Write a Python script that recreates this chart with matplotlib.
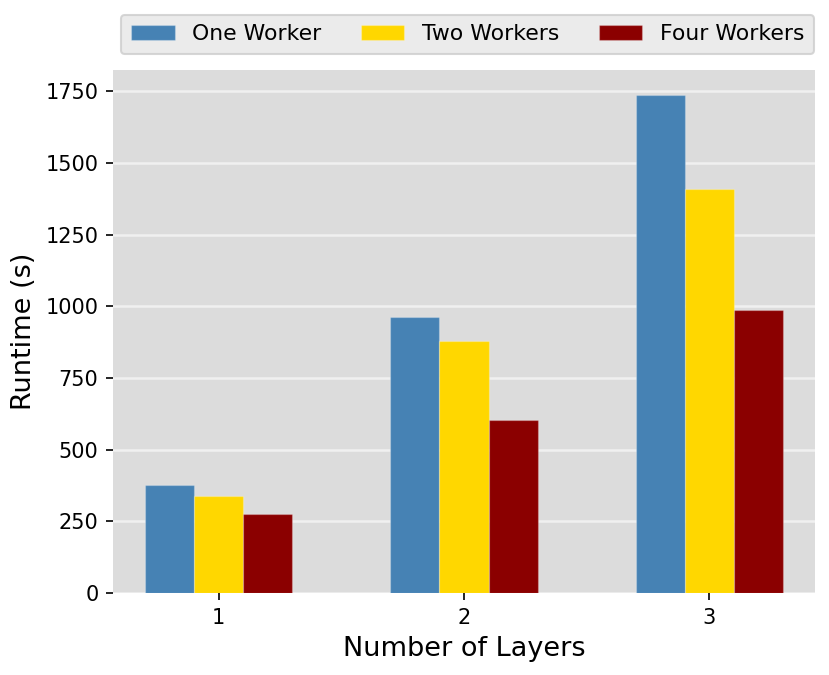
import matplotlib
matplotlib.use("Agg")
import matplotlib.pyplot as plt
import numpy as np

layers = [1, 2, 3]
series_names = ["One Worker", "Two Workers", "Four Workers"]
one_worker = [376, 962, 1737]
two_workers = [338, 878, 1408]
four_workers = [275, 603, 986]
colors = ["steelblue", "gold", "darkred"]

fig = plt.figure(figsize=(829/150, 675/150), dpi=150)
ax = fig.add_axes([113/829, 1-593/675, (815-113)/829, (593-70)/675])
ax.set_facecolor("#dcdcdc")
x = np.array(layers, dtype=float)
w = 0.2
for i, (name, vals, c) in enumerate(zip(series_names, [one_worker, two_workers, four_workers], colors)):
    ax.bar(x + (i - 1) * w, vals, w, color=c, label=name, edgecolor=(1, 1, 1, 0.25), linewidth=0.6, zorder=3)
ax.set_axisbelow(True)
ax.yaxis.grid(True, color="#f0f0f0", linewidth=1.2)
for s in ax.spines.values():
    s.set_visible(False)
ax.set_xticks(layers)
ax.set_xticklabels([str(l) for l in layers])
ax.set_yticks([0, 250, 500, 750, 1000, 1250, 1500, 1750])
ax.tick_params(labelsize=10)
ax.set_xlabel("Number of Layers", fontsize=13)
ax.set_ylabel("Runtime (s)", fontsize=13)
leg = ax.legend(loc="lower center", bbox_to_anchor=(0.505, 1.03), ncol=3, fontsize=10.5,
                frameon=True, facecolor="#e6e6e6", edgecolor="#cccccc",
                columnspacing=1.8, borderpad=0.45, borderaxespad=0)
fig.savefig("out.png", dpi=150)
